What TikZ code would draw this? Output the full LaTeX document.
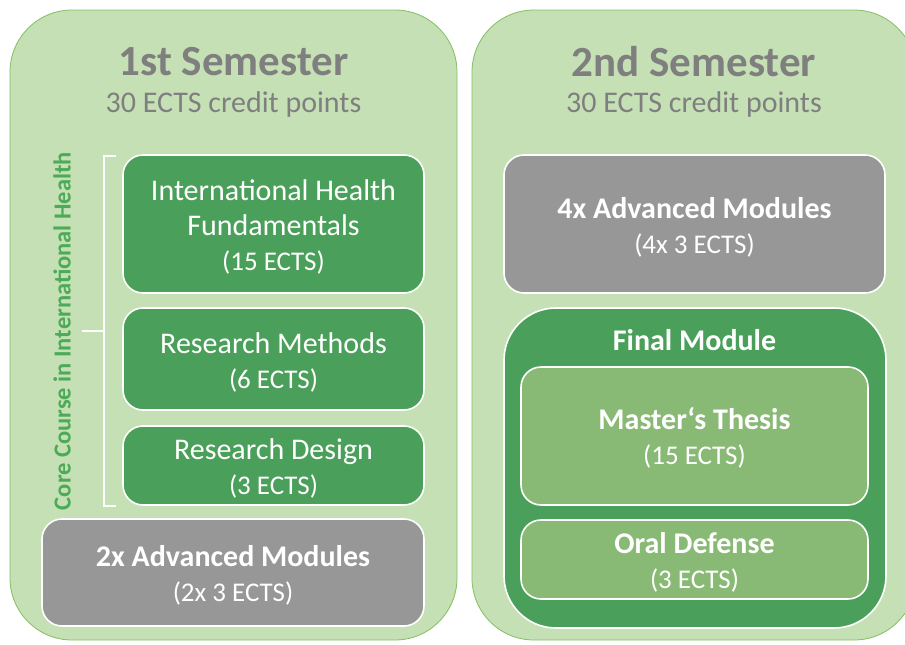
\documentclass[tikz,border=0pt]{standalone}
\usepackage{fontspec}
\setmainfont{Carlito}
\definecolor{semfill}{RGB}{197,224,180}
\definecolor{semline}{RGB}{130,190,100}
\definecolor{dgreen}{RGB}{74,160,90}
\definecolor{lgreen}{RGB}{137,186,117}
\definecolor{mgray}{RGB}{151,151,151}
\definecolor{tgray}{RGB}{127,127,127}
\definecolor{vgreen}{RGB}{76,170,88}
\newcommand{\ects}[1]{{\fontsize{27}{35}\selectfont\mdseries #1}}
\begin{document}
\begin{tikzpicture}[x=1pt,y=-1pt,
  sem/.style={fill=semfill,draw=semline,line width=0.8pt,rounded corners=62pt},
  box/.style={draw=white,line width=1.6pt,rounded corners=20pt},
  dbox/.style={box,fill=dgreen},
  gbox/.style={box,fill=mgray},
  lbox/.style={box,fill=lgreen},
  ttl/.style={text=tgray,font=\fontsize{43}{48}\selectfont\bfseries},
  sub/.style={text=tgray,font=\fontsize{30}{34}\selectfont},
  lbl/.style={text=white,align=center,inner sep=0pt,font=\fontsize{30}{35}\selectfont},
  blbl/.style={lbl,font=\fontsize{30}{35}\selectfont\bfseries}]
\useasboundingbox (0,0) rectangle (905,645);
% semesters
\draw[sem] (10,10) rectangle (457,640);
\draw[sem] (472,10) rectangle (916,640);
\node[ttl] (t1) at (233.5,62) {1st Semester};
\node[sub] (s1) at (233.5,104.5) {30 ECTS credit points};
\node[ttl] (t2) at (694,62) {2nd Semester};
\node[sub] (s2) at (694,104.5) {30 ECTS credit points};
% first semester modules
\draw[dbox] (123,155) rectangle (424,293);
\node[lbl] (ihf) at (273.5,227) {International Health\\Fundamentals\\\ects{(15 ECTS)}};
\draw[dbox] (123,308) rectangle (424,410);
\node[lbl] (rm) at (273.5,362) {Research Methods\\\ects{(6 ECTS)}};
\draw[dbox] (123,426) rectangle (424,505);
\node[lbl] (rd) at (273.5,468) {Research Design\\\ects{(3 ECTS)}};
\draw[gbox] (42,519) rectangle (424,626);
\node[blbl] (am2) at (233,575) {2x Advanced Modules\\\ects{(2x 3 ECTS)}};
% bracket
\coordinate (bt) at (116,156);
\coordinate (bb) at (116,506);
\coordinate (bm) at (82,331);
\draw[white,line width=1.6pt] (bt) -- (104,156) -- (104,506) -- (bb);
\draw[white,line width=1.6pt] (bm) -- (104,331);
\node[rotate=90,text=vgreen,font=\fontsize{24.5}{28}\selectfont\bfseries] (core) at (62,331) {Core Course in International Health};
% second semester
\draw[gbox] (504,155) rectangle (885,293);
\node[blbl] (am4) at (694.5,227) {4x Advanced Modules\\\ects{(4x 3 ECTS)}};
\draw[dbox,rounded corners=52pt] (504,308) rectangle (886,628);
\node[blbl] (fm) at (694.5,340) {Final Module};
\draw[lbox] (521,367) rectangle (868,505);
\node[blbl] (mt) at (694.5,438) {Master‘s Thesis\\\ects{(15 ECTS)}};
\draw[lbox] (521,520) rectangle (868,599);
\node[blbl] (od) at (694.5,562) {Oral Defense\\\ects{(3 ECTS)}};
\end{tikzpicture}
\end{document}
